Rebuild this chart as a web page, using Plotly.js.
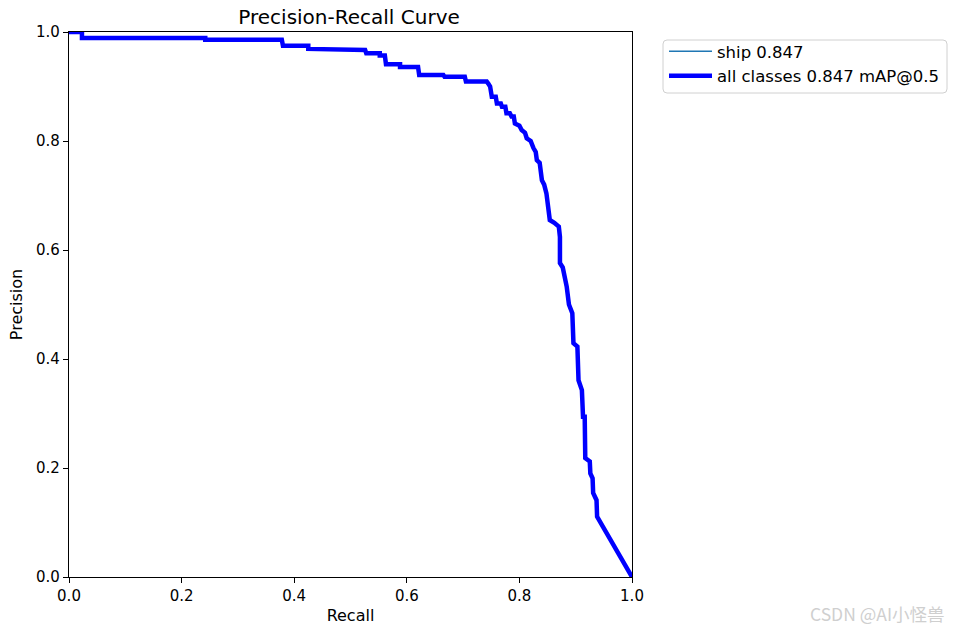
<!DOCTYPE html>
<html>
<head>
<meta charset="utf-8">
<script src="https://cdn.plot.ly/plotly-3.0.1.min.js"></script>
<style>html,body{margin:0;padding:0;background:#fff;}#chart{width:955px;height:631px;}</style>
</head>
<body>
<div id="chart"></div>
<script>
const recall = [0,0.023,0.023,0.242,0.242,0.378,0.380,0.425,0.425,0.467,0.467,0.526,0.528,0.552,0.552,0.561,0.563,0.588,0.588,0.620,0.622,0.665,0.667,0.703,0.705,0.742,0.745,0.748,0.751,0.758,0.760,0.767,0.769,0.775,0.777,0.783,0.786,0.790,0.792,0.800,0.804,0.810,0.813,0.820,0.825,0.829,0.831,0.836,0.840,0.844,0.848,0.850,0.854,0.862,0.866,0.870,0.872,0.872,0.877,0.878,0.883,0.884,0.888,0.890,0.894,0.896,0.903,0.905,0.910,0.911,0.913,0.916,0.917,0.922,0.925,0.926,0.930,0.931,0.935,0.937,0.938,1.0];
const precision = [1.0,1.0,0.989,0.989,0.986,0.986,0.975,0.975,0.969,0.969,0.967,0.967,0.961,0.961,0.957,0.957,0.941,0.941,0.936,0.936,0.921,0.921,0.918,0.918,0.909,0.909,0.905,0.900,0.881,0.881,0.869,0.869,0.863,0.863,0.851,0.851,0.845,0.845,0.832,0.828,0.820,0.815,0.805,0.800,0.787,0.780,0.765,0.760,0.728,0.720,0.704,0.690,0.655,0.650,0.646,0.643,0.624,0.576,0.568,0.563,0.540,0.533,0.500,0.496,0.484,0.429,0.423,0.361,0.349,0.343,0.294,0.294,0.218,0.215,0.212,0.190,0.181,0.154,0.145,0.141,0.111,0.0];
const seriesNames = ['ship 0.847', 'all classes 0.847 mAP@0.5'];
const tickVals = [0,0.2,0.4,0.6,0.8,1.0];
const tickText = ['0.0','0.2','0.4','0.6','0.8','1.0'];

const W = 955, H = 631, ML = 69, MR = 323, MT = 32, MB = 54;
const PW = W - ML - MR, PH = H - MT - MB;
const px2x = p => (p - ML) / PW;
const py2y = p => (H - MB - p) / PH;

// rounded legend frame (pixel box -> paper coords)
function roundedRect(x0, y0, x1, y1, r) {
  const X = px2x, Y = py2y;
  return 'M' + X(x0 + r) + ',' + Y(y0) +
    ' L' + X(x1 - r) + ',' + Y(y0) + ' Q' + X(x1) + ',' + Y(y0) + ' ' + X(x1) + ',' + Y(y0 + r) +
    ' L' + X(x1) + ',' + Y(y1 - r) + ' Q' + X(x1) + ',' + Y(y1) + ' ' + X(x1 - r) + ',' + Y(y1) +
    ' L' + X(x0 + r) + ',' + Y(y1) + ' Q' + X(x0) + ',' + Y(y1) + ' ' + X(x0) + ',' + Y(y1 - r) +
    ' L' + X(x0) + ',' + Y(y0 + r) + ' Q' + X(x0) + ',' + Y(y0) + ' ' + X(x0 + r) + ',' + Y(y0) + ' Z';
}

const font = {family: 'DejaVu Sans, sans-serif', color: '#000'};
const traces = [
  {x: recall, y: precision, mode: 'lines', name: seriesNames[0], line: {color: '#1f77b4', width: 1.3}},
  {x: recall, y: precision, mode: 'lines', name: seriesNames[1], line: {color: '#0000ff', width: 4.5}}
];
const axisBase = {
  range: [0,1], tickvals: tickVals, ticktext: tickText, ticks: 'outside', ticklen: 5, tickwidth: 1,
  tickcolor: '#000', showline: true, linecolor: '#000', linewidth: 1.2, mirror: true,
  showgrid: false, zeroline: false, tickfont: {family: font.family, size: 15, color: '#000'}
};
const layout = {
  width: W, height: H,
  margin: {l: ML, r: MR, t: MT, b: MB, autoexpand: false},
  paper_bgcolor: '#fff', plot_bgcolor: '#fff',
  font: font,
  title: {text: 'Precision-Recall Curve', font: {family: font.family, size: 20, color: '#000'}, x: 0.3655, xanchor: 'center', y: 0.973, yanchor: 'middle'},
  xaxis: Object.assign({}, axisBase, {title: {text: 'Recall', font: {family: font.family, size: 16}, standoff: 5}}),
  yaxis: Object.assign({}, axisBase, {title: {text: 'Precision', font: {family: font.family, size: 16}, standoff: 9}}),
  showlegend: true,
  legend: {xref: 'container', yref: 'container', x: 664 / W, xanchor: 'left', y: 1 - 34 / H, yanchor: 'top',
           borderwidth: 0, bgcolor: 'rgba(0,0,0,0)', font: {family: font.family, size: 16.5, color: '#000'},
           tracegroupgap: 0, itemwidth: 43},
  shapes: [{type: 'path', xref: 'paper', yref: 'paper', path: roundedRect(663, 40, 947, 93, 4),
            line: {color: '#d0d0d0', width: 1}, fillcolor: 'rgba(255,255,255,0.8)', layer: 'below'}],
  annotations: [{text: 'CSDN @AI小怪兽', xref: 'paper', yref: 'paper', x: px2x(947), y: py2y(613), xanchor: 'right', yanchor: 'middle',
                 showarrow: false, font: {family: 'Noto Sans CJK SC, DejaVu Sans, sans-serif', size: 17.5, color: '#cfcfcf'}}]
};
Plotly.newPlot('chart', traces, layout, {displayModeBar: false, staticPlot: true});
</script>
</body>
</html>
